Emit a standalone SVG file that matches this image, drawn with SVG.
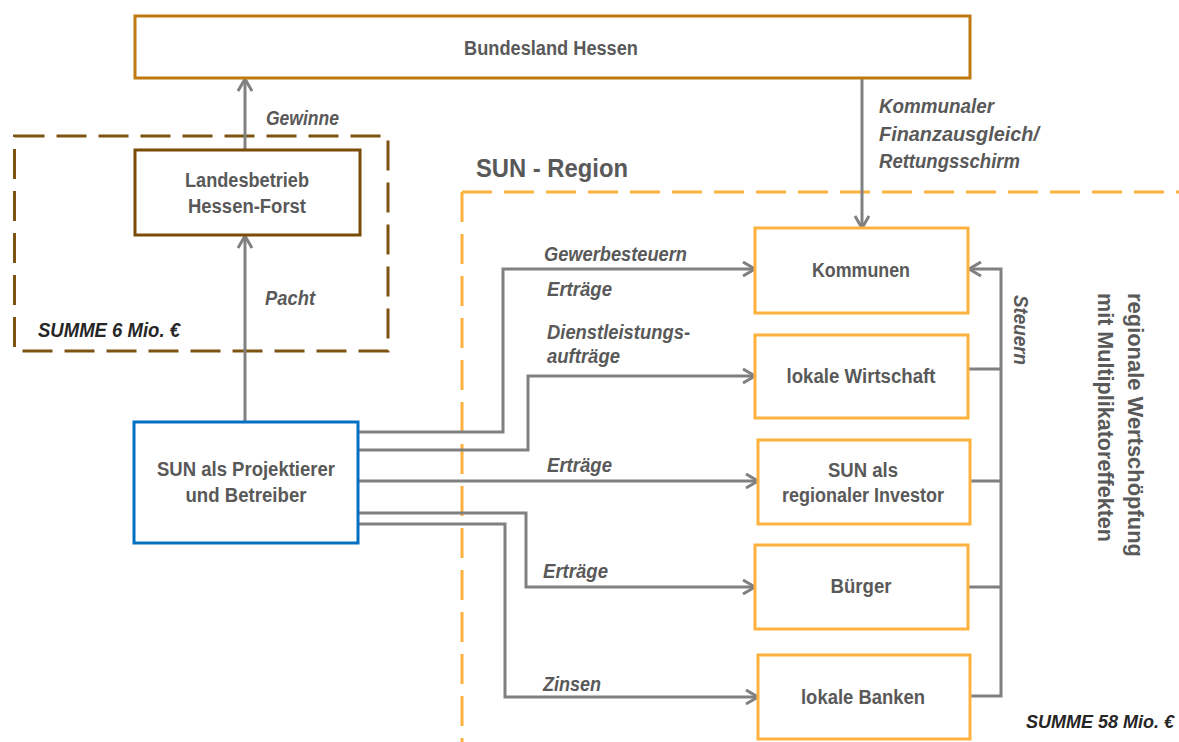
<svg xmlns="http://www.w3.org/2000/svg" width="1179" height="742" viewBox="0 0 1179 742">
<defs>
<style>
.box{fill:#fff;stroke-width:3}
.nt{font-family:"Liberation Sans",Arial,sans-serif;font-weight:bold;font-size:20px;fill:#595959;text-anchor:middle}
.lb{font-family:"Liberation Sans",Arial,sans-serif;font-weight:bold;font-style:italic;font-size:19.5px;fill:#595959}
.sum{font-family:"Liberation Sans",Arial,sans-serif;font-weight:bold;font-style:italic;font-size:19.5px;fill:#262626}
.vt{font-family:"Liberation Sans",Arial,sans-serif;font-weight:bold;font-size:22px;fill:#595959}
.c{fill:none;stroke:#808080;stroke-width:3}
.ca{fill:none;stroke:#808080;stroke-width:3;marker-end:url(#arr)}
</style>
<marker id="arr" viewBox="0 0 16 16" refX="14" refY="8" markerWidth="16" markerHeight="16" markerUnits="userSpaceOnUse" orient="auto">
<path d="M2,1 L14,8 L2,15" fill="none" stroke="#808080" stroke-width="3" stroke-linejoin="miter"/>
</marker>
</defs>
<rect width="1179" height="742" fill="#fff"/>

<g id="region-sun">
<path d="M462,192 H1179 M462,192 V742" fill="none" stroke="#ffb13d" stroke-width="3" stroke-dasharray="30 12"/>
<text x="476" y="177" font-family="Liberation Sans, Arial, sans-serif" font-weight="bold" font-size="26" fill="#595959" textLength="152" lengthAdjust="spacingAndGlyphs">SUN - Region</text>
<text x="1026" y="728" font-family="Liberation Sans, Arial, sans-serif" font-weight="bold" font-style="italic" font-size="18" fill="#262626">SUMME 58 Mio. €</text>
</g>

<g id="region-hessenforst">
<rect x="14.5" y="136" width="373.5" height="215" fill="none" stroke="#7d5312" stroke-width="3" stroke-dasharray="30 12"/>
<text class="sum" x="38" y="337" textLength="142" lengthAdjust="spacingAndGlyphs">SUMME 6 Mio. €</text>
</g>

<g id="connectors">
<path class="ca" d="M245,150 V79"/>
<path class="ca" d="M245,422 V236"/>
<path class="ca" d="M862,79 V228"/>
<path class="ca" d="M358,432 H503 V269 H755"/>
<path class="ca" d="M358,450 H528 V376 H755"/>
<path class="ca" d="M358,481 H758"/>
<path class="ca" d="M358,513 H526 V587 H755"/>
<path class="ca" d="M358,524 H505 V697 H758"/>
<path class="ca" d="M970,696 H1001 V269 H969"/>
<path class="c" d="M968,369 H1001 M970,481 H1001 M968,587 H1001"/>
<text class="lb" x="266" y="125" textLength="73" lengthAdjust="spacingAndGlyphs">Gewinne</text>
<text class="lb" x="265" y="305" textLength="50" lengthAdjust="spacingAndGlyphs">Pacht</text>
<text class="lb" x="879" y="113" textLength="115" lengthAdjust="spacingAndGlyphs">Kommunaler</text>
<text class="lb" x="879" y="141" textLength="160" lengthAdjust="spacingAndGlyphs">Finanzausgleich/</text>
<text class="lb" x="879" y="168" textLength="141" lengthAdjust="spacingAndGlyphs">Rettungsschirm</text>
<text class="lb" x="544" y="261" textLength="143" lengthAdjust="spacingAndGlyphs">Gewerbesteuern</text>
<text class="lb" x="547" y="296" textLength="65" lengthAdjust="spacingAndGlyphs">Erträge</text>
<text class="lb" x="547" y="339" textLength="143" lengthAdjust="spacingAndGlyphs">Dienstleistungs-</text>
<text class="lb" x="547" y="363" textLength="73" lengthAdjust="spacingAndGlyphs">aufträge</text>
<text class="lb" x="547" y="472" textLength="65" lengthAdjust="spacingAndGlyphs">Erträge</text>
<text class="lb" x="543" y="578" textLength="65" lengthAdjust="spacingAndGlyphs">Erträge</text>
<text class="lb" x="543" y="691" textLength="58" lengthAdjust="spacingAndGlyphs">Zinsen</text>
<text class="lb" transform="translate(1014,295) rotate(90)" textLength="70" lengthAdjust="spacingAndGlyphs">Steuern</text>
</g>

<g id="node-hessen">
<rect class="box" x="135" y="16" width="835" height="62" stroke="#c07810"/>
<text class="nt" x="551" y="55" textLength="174" lengthAdjust="spacingAndGlyphs">Bundesland Hessen</text>
</g>

<g id="node-hessenforst">
<rect class="box" x="135" y="150" width="225" height="85" stroke="#7b4b08"/>
<text class="nt" x="247" y="187" textLength="124" lengthAdjust="spacingAndGlyphs">Landesbetrieb</text>
<text class="nt" x="247" y="213" textLength="118" lengthAdjust="spacingAndGlyphs">Hessen-Forst</text>
</g>

<g id="node-sun-projektierer">
<rect class="box" x="134" y="422" width="224" height="121" stroke="#0070c0"/>
<text class="nt" x="246" y="476" textLength="178" lengthAdjust="spacingAndGlyphs">SUN als Projektierer</text>
<text class="nt" x="246" y="502" textLength="121" lengthAdjust="spacingAndGlyphs">und Betreiber</text>
</g>

<g id="node-kommunen">
<rect class="box" x="755" y="228" width="213" height="85" stroke="#ffb13d"/>
<text class="nt" x="861" y="277" textLength="98" lengthAdjust="spacingAndGlyphs">Kommunen</text>
</g>

<g id="node-wirtschaft">
<rect class="box" x="755" y="335" width="213" height="83" stroke="#ffb13d"/>
<text class="nt" x="861" y="383" textLength="149" lengthAdjust="spacingAndGlyphs">lokale Wirtschaft</text>
</g>

<g id="node-sun-investor">
<rect class="box" x="758" y="440" width="212" height="84" stroke="#ffb13d"/>
<text class="nt" x="863" y="477" textLength="70" lengthAdjust="spacingAndGlyphs">SUN als</text>
<text class="nt" x="863" y="502" textLength="162" lengthAdjust="spacingAndGlyphs">regionaler Investor</text>
</g>

<g id="node-buerger">
<rect class="box" x="755" y="545" width="213" height="84" stroke="#ffb13d"/>
<text class="nt" x="861" y="593" textLength="61" lengthAdjust="spacingAndGlyphs">Bürger</text>
</g>

<g id="node-banken">
<rect class="box" x="758" y="655" width="212" height="84" stroke="#ffb13d"/>
<text class="nt" x="863" y="704" textLength="124" lengthAdjust="spacingAndGlyphs">lokale Banken</text>
</g>

<g id="label-wertschoepfung">
<text class="vt" transform="translate(1128,293) rotate(90)" textLength="264" lengthAdjust="spacingAndGlyphs">regionale Wertschöpfung</text>
<text class="vt" transform="translate(1098,293) rotate(90)" textLength="249" lengthAdjust="spacingAndGlyphs">mit Multiplikatoreffekten</text>
</g>
</svg>
